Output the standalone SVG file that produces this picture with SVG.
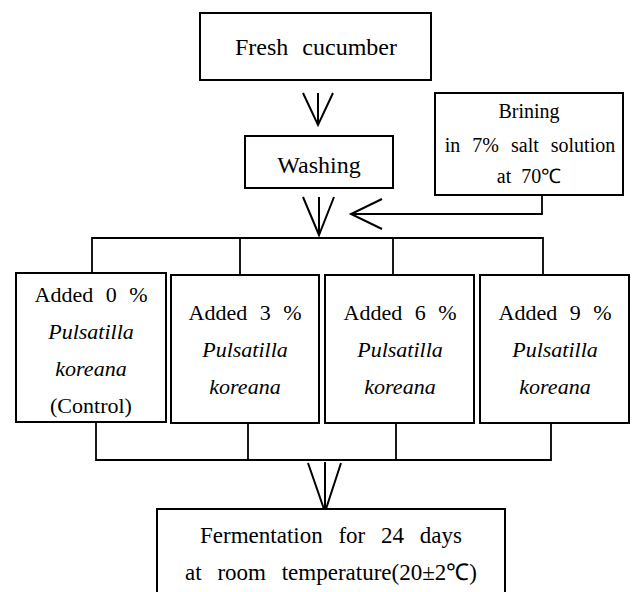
<svg xmlns="http://www.w3.org/2000/svg" width="633" height="592" viewBox="0 0 633 592">
<style>
.box{fill:#fff;stroke:#000;stroke-width:2}
.ln{fill:none;stroke:#000;stroke-width:1.8}
.ar{fill:none;stroke:#000;stroke-width:2}
</style>
<rect width="633" height="592" fill="#fff"/>
<g id="connectors">
<path class="ar" d="M318 93V125M303 93L318 125L333 93"/>
<path class="ar" d="M319 197V235M303 197L319 235L334 197"/>
<path class="ln" d="M542 195V214H351"/>
<path class="ar" d="M382 199L351 214L382 229"/>
<path class="ln" d="M92 273V238H543V275M240 238V275M393 238V275"/>
<path class="ln" d="M96 422V460H551V423M248 423V460M396 423V460"/>
<path class="ar" d="M325 462V512M308 463L325 512L341 463"/>
</g>
<g id="fresh">
<rect class="box" x="200" y="13" width="231" height="67"/>
<text x="316" y="55" font-size="24" word-spacing="8" text-anchor="middle" font-family="Liberation Serif, serif">Fresh cucumber</text>
</g>
<g id="washing">
<rect class="box" x="245" y="136" width="148" height="52"/>
<text x="319" y="173" font-size="24" text-anchor="middle" font-family="Liberation Serif, serif">Washing</text>
</g>
<g id="brining">
<rect class="box" x="435" y="93" width="188" height="102"/>
<text x="529" y="118" font-size="20" text-anchor="middle" font-family="Liberation Serif, serif">Brining</text>
<text x="530" y="152" font-size="20" word-spacing="7" text-anchor="middle" font-family="Liberation Serif, serif">in 7% salt solution</text>
<text x="529" y="183" font-size="20" word-spacing="5" text-anchor="middle" font-family="Liberation Serif, serif">at 70℃</text>
</g>
<g id="b0">
<rect class="box" x="16" y="273" width="150" height="149"/>
<text x="91" y="302" font-size="22" word-spacing="7" text-anchor="middle" font-family="Liberation Serif, serif">Added 0 %</text>
<text x="91" y="339" font-size="22" text-anchor="middle" font-family="Liberation Serif, serif" font-style="italic">Pulsatilla</text>
<text x="91" y="376" font-size="22" text-anchor="middle" font-family="Liberation Serif, serif" font-style="italic">koreana</text>
<text x="91" y="413" font-size="22" text-anchor="middle" font-family="Liberation Serif, serif">(Control)</text>
</g>
<g id="b3">
<rect class="box" x="171" y="275" width="148" height="148"/>
<text x="245" y="320" font-size="22" word-spacing="7" text-anchor="middle" font-family="Liberation Serif, serif">Added 3 %</text>
<text x="245" y="357" font-size="22" text-anchor="middle" font-family="Liberation Serif, serif" font-style="italic">Pulsatilla</text>
<text x="245" y="394" font-size="22" text-anchor="middle" font-family="Liberation Serif, serif" font-style="italic">koreana</text>
</g>
<g id="b6">
<rect class="box" x="325" y="275" width="149" height="148"/>
<text x="400" y="320" font-size="22" word-spacing="7" text-anchor="middle" font-family="Liberation Serif, serif">Added 6 %</text>
<text x="400" y="357" font-size="22" text-anchor="middle" font-family="Liberation Serif, serif" font-style="italic">Pulsatilla</text>
<text x="400" y="394" font-size="22" text-anchor="middle" font-family="Liberation Serif, serif" font-style="italic">koreana</text>
</g>
<g id="b9">
<rect class="box" x="480" y="275" width="149" height="148"/>
<text x="555" y="320" font-size="22" word-spacing="7" text-anchor="middle" font-family="Liberation Serif, serif">Added 9 %</text>
<text x="555" y="357" font-size="22" text-anchor="middle" font-family="Liberation Serif, serif" font-style="italic">Pulsatilla</text>
<text x="555" y="394" font-size="22" text-anchor="middle" font-family="Liberation Serif, serif" font-style="italic">koreana</text>
</g>
<g id="ferment">
<rect class="box" x="157" y="509" width="348" height="95"/>
<text x="331" y="543" font-size="23" word-spacing="10" text-anchor="middle" font-family="Liberation Serif, serif">Fermentation for 24 days</text>
<text x="331" y="580" font-size="23" word-spacing="10" text-anchor="middle" font-family="Liberation Serif, serif">at room temperature(20±2℃)</text>
</g>
</svg>
